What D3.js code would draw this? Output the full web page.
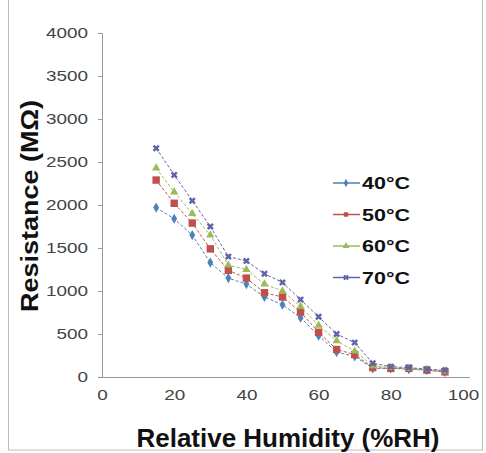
<!DOCTYPE html>
<html>
<head>
<meta charset="utf-8">
<script src="https://cdn.jsdelivr.net/npm/d3@7"></script>
<style>
  body { margin: 0; background: #fff; }
  text { font-family: "Liberation Sans", Arial, sans-serif; }
</style>
</head>
<body>
<div id="chart"></div>
<script>
let width = 486,
    height = 453

// humidity steps (%RH)
let humidity = [15, 20, 25, 30, 35, 40, 45, 50, 55, 60, 65, 70, 75, 80, 85, 90, 95]

// resistance (MOhm) per temperature
let r40 = [1970, 1840, 1650, 1330, 1150, 1080, 930, 840, 690, 480, 290, 240, 100, 100, 90, 80, 60]
let r50 = [2290, 2020, 1790, 1490, 1240, 1150, 980, 930, 755, 520, 320, 260, 110, 100, 100, 80, 60]
let r60 = [2430, 2150, 1900, 1650, 1300, 1250, 1080, 1000, 820, 600, 420, 300, 130, 110, 100, 85, 70]
let r70 = [2660, 2350, 2050, 1750, 1400, 1350, 1200, 1100, 900, 700, 500, 400, 160, 120, 110, 90, 80]

let seriesNames = ["40\u00B0C", "50\u00B0C", "60\u00B0C", "70\u00B0C"]
let xTicks = [0, 20, 40, 60, 80, 100]
let yTicks = [0, 500, 1000, 1500, 2000, 2500, 3000, 3500, 4000]

let series = [
  { name: seriesNames[0], values: r40, color: "#4F81BD", shape: d3.symbolDiamond },
  { name: seriesNames[1], values: r50, color: "#C0504D", shape: d3.symbolSquare },
  { name: seriesNames[2], values: r60, color: "#9BBB59", shape: d3.symbolTriangle },
  { name: seriesNames[3], values: r70, color: "#5F63A8", shape: d3.symbolCross }
]

let svg = d3.select("#chart").append("svg")
  .attr("width", width)
  .attr("height", height)

// outer frame
svg.append("rect")
  .attr("x", 8.5).attr("y", -2)
  .attr("width", 474).attr("height", 452)
  .attr("fill", "none")
  .attr("stroke", "#bbb")

let x = d3.scaleLinear().domain([0, 100]).range([102, 463])
let y = d3.scaleLinear().domain([0, 4000]).range([377, 33])

// the picture is stretched sideways, so labels get a wider scale
let stretch = 1.35

// y axis
let yAxis = svg.append("g")
  .attr("transform", "translate(102,0)")
  .call(d3.axisLeft(y).tickValues(yTicks).tickFormat(d3.format("d")).tickSize(4).tickPadding(0))
yAxis.select(".domain").attr("stroke", "#999")
yAxis.selectAll(".tick line").attr("stroke", "#999")
yAxis.selectAll(".tick text")
  .attr("x", -14 / stretch)
  .attr("transform", "scale(" + stretch + ",1)")
  .attr("fill", "#444")
  .style("font-size", "14px")

// x axis
let xAxis = svg.append("g")
  .attr("transform", "translate(0,377)")
  .call(d3.axisBottom(x).tickValues(xTicks).tickSize(0).tickPadding(0))
xAxis.select(".domain").attr("stroke", "#999").attr("d", "M102,0.5H470")
xAxis.selectAll(".tick text")
  .attr("y", 13)
  .attr("transform", "scale(" + stretch + ",1)")
  .attr("fill", "#444")
  .style("font-size", "14px")

// axis titles
svg.append("text")
  .attr("x", 288).attr("y", 447)
  .attr("text-anchor", "middle")
  .attr("textLength", 303)
  .attr("lengthAdjust", "spacingAndGlyphs")
  .style("font-size", "25px")
  .style("font-weight", "bold")
  .attr("fill", "#111")
  .text("Relative Humidity (%RH)")

svg.append("text")
  .attr("transform", "translate(38,206) rotate(-90)")
  .attr("text-anchor", "middle")
  .attr("textLength", 212)
  .attr("lengthAdjust", "spacingAndGlyphs")
  .style("font-size", "24px")
  .style("font-weight", "bold")
  .attr("fill", "#111")
  .text("Resistance (M\u03A9)")

let line = d3.line()
  .x((d, i) => x(humidity[i]))
  .y(d => y(d))

let plot = svg.append("g")

series.forEach(s => {
  plot.append("path")
    .datum(s.values)
    .attr("d", line)
    .attr("fill", "none")
    .attr("stroke", s.color)
    .attr("stroke-width", 1)
    .attr("stroke-dasharray", "3,2")

  plot.selectAll(null)
    .data(s.values)
    .enter().append("path")
    .attr("transform", (d, i) => "translate(" + x(humidity[i]) + "," + y(d) + ")" + (s.shape === d3.symbolCross ? " rotate(45)" : ""))
    .attr("d", d3.symbol().type(s.shape).size(s.shape === d3.symbolSquare ? 55 : 30))
    .attr("fill", s.color)
})

// legend
let legend = svg.append("g")
  .attr("transform", "translate(333,183)")

series.forEach((s, i) => {
  let g = legend.append("g").attr("transform", "translate(0," + (i * 31.5) + ")")
  g.append("line")
    .attr("x1", 0).attr("x2", 27)
    .attr("stroke", s.color)
    .attr("stroke-width", 1.5)
  g.append("path")
    .attr("transform", "translate(13,0)" + (s.shape === d3.symbolCross ? " rotate(45)" : ""))
    .attr("d", d3.symbol().type(s.shape).size(20))
    .attr("fill", s.color)
  g.append("text")
    .attr("x", 29).attr("y", 6)
    .attr("textLength", 48)
    .attr("lengthAdjust", "spacingAndGlyphs")
    .style("font-size", "17px")
    .style("font-weight", "bold")
    .attr("fill", "#111")
    .text(s.name)
})
</script>
</body>
</html>
